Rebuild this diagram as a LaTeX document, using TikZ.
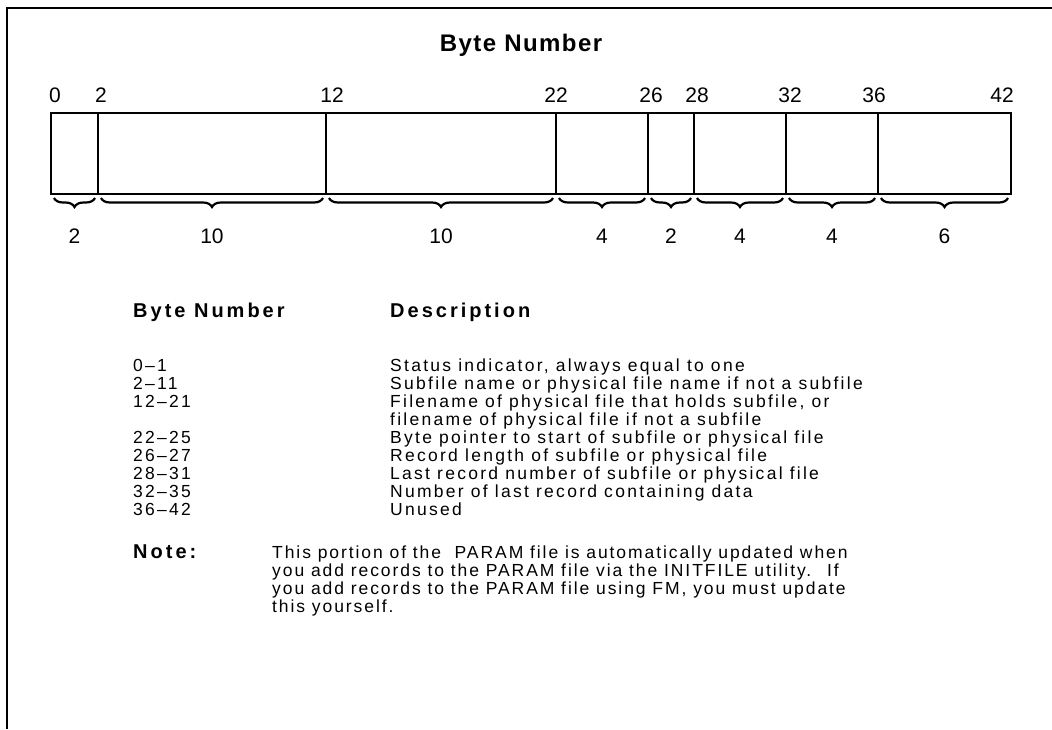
\documentclass[tikz,border=0pt]{standalone}
\usepackage{fontspec}
\setmainfont{Liberation Sans}
\newfontfamily\bodyfont[LetterSpace=13]{Liberation Sans}
\newfontfamily\notefont[LetterSpace=11]{Liberation Sans}
\newfontfamily\headfont[LetterSpace=15]{Liberation Sans}
\newfontfamily\titlefont[LetterSpace=6]{Liberation Sans}
\usetikzlibrary{decorations.pathreplacing,calc}
\begin{document}
\begin{tikzpicture}[x=1pt,y=-1pt,
  frameline/.style={line width=1.8pt},
  boxline/.style={line width=1.6pt},
  bracestyle/.style={line width=2.2pt,decorate,decoration={brace,mirror,amplitude=9pt}},
  toplab/.style={font=\fontsize{21}{25}\selectfont,anchor=base,inner sep=0pt},
  title/.style={font=\titlefont\bfseries\fontsize{24}{28}\selectfont,anchor=base,inner sep=0pt},
  tblh/.style={font=\headfont\bfseries\fontsize{20}{23}\selectfont,anchor=base west,inner sep=0pt},
  tbl/.style={font=\bodyfont\fontsize{17.5}{19}\selectfont,anchor=base west,inner sep=0pt},
  notetxt/.style={font=\notefont\fontsize{17.5}{19}\selectfont,anchor=base west,inner sep=0pt}]
\useasboundingbox (0,0) rectangle (1052,729);
% frame
\coordinate (fr1) at (1052,8);
\coordinate (fr2) at (7,8);
\coordinate (fr3) at (7,729);
\draw[frameline] (fr1) -- (fr2) -- (fr3);
% title
\node[title] (title) at (521,51) {Byte Number};
% box
\foreach \n/\x in {0/51,1/98,2/326,3/556,4/648,5/694,6/786,7/878,8/1011}{
  \coordinate (t\n) at (\x,113);
  \coordinate (u\n) at (\x,194);
}
\draw[boxline] (t0) rectangle (u8);
\foreach \n in {1,...,7}{\draw[boxline] (t\n) -- (u\n);}
% top labels
\foreach \n/\x/\t in {0/55/0,1/101/2,2/332/12,3/556/22,4/651/26,5/697/28,6/790/32,7/874/36,8/1002/42}{
  \node[toplab] (lab\n) at (\x,102) {\t};
}
% braces
\foreach \a/\b/\t in {0/1/2,1/2/10,2/3/10,3/4/4,4/5/2,5/6/4,6/7/4,7/8/6}{
  \draw[bracestyle] ($(u\a)+(3,4)$) -- ($(u\b)+(-3,4)$);
  \node[toplab] (w\a) at ($($(u\a)!0.5!(u\b)$)+(0,49)$) {\t};
}
% table
\node[tblh] (h1) at (133,317) {Byte Number};
\node[tblh] (h2) at (390,317) {Description};
\foreach \i/\a/\d in {0/0–1/Status indicator{,} always equal to one,
  1/2–11/Subfile name or physical file name if not a subfile,
  2/12–21/Filename of physical file that holds subfile{,} or,
  3//filename of physical file if not a subfile,
  4/22–25/Byte pointer to start of subfile or physical file,
  5/26–27/Record length of subfile or physical file,
  6/28–31/Last record number of subfile or physical file,
  7/32–35/Number of last record containing data,
  8/36–42/Unused}{
  \node[tbl] (a\i) at (133,371+18.1*\i) {\a};
  \node[tbl] (d\i) at (390,371+18.1*\i) {\d};
}
\node[tblh] (note) at (133,558) {Note:};
\node[notetxt] (n1) at (272,558) {This portion of the \ PARAM file is automatically updated when};
\node[notetxt] (n2) at (272,576.2) {you add records to the PARAM file via the INITFILE utility. \ If};
\node[notetxt] (n3) at (272,594.4) {you add records to the PARAM file using FM, you must update};
\node[notetxt] (n4) at (272,612.6) {this yourself.};
\end{tikzpicture}
\end{document}
